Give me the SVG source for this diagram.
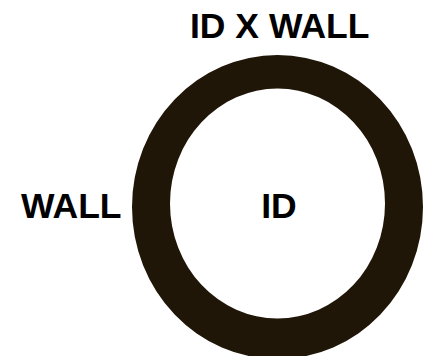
<svg xmlns="http://www.w3.org/2000/svg" width="430" height="356" viewBox="0 0 430 356">
<style>
.lbl{font-family:"Liberation Sans",Arial,sans-serif;font-weight:bold;font-size:35.5px;fill:#000}
</style>
<rect width="430" height="356" fill="#fff"/>
<g id="ring">
<path fill="#201607" fill-rule="evenodd" d="M132,207 a145.5,152 0 1,0 291,0 a145.5,152 0 1,0 -291,0 Z M170,203.5 a107.5,115 0 1,0 215,0 a107.5,115 0 1,0 -215,0 Z"/>
</g>
<g id="title"><text class="lbl" x="190" y="38">ID X WALL</text></g>
<g id="wall"><text class="lbl" x="21" y="218">WALL</text></g>
<g id="id"><text class="lbl" x="279" y="218" text-anchor="middle">ID</text></g>
<g id="connectors"/>
</svg>
